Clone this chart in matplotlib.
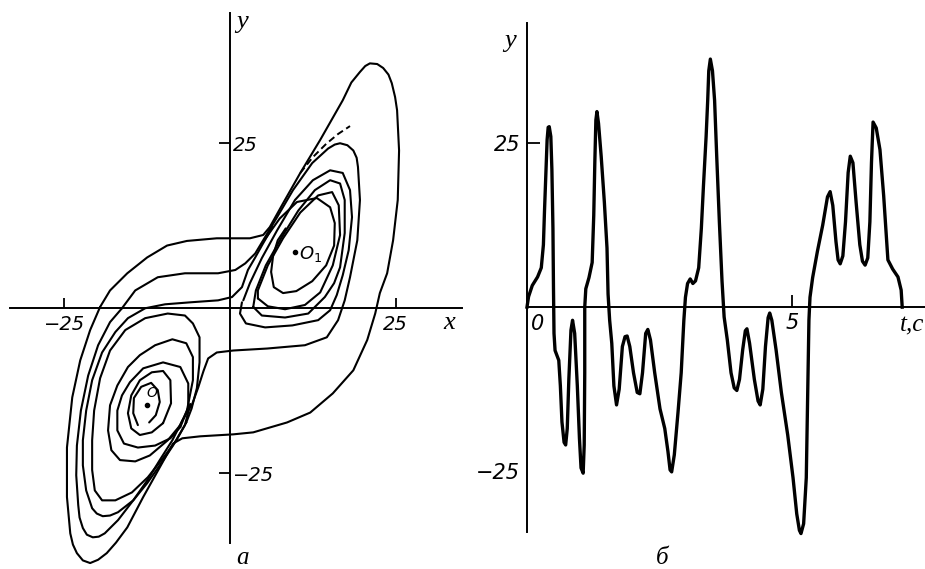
import numpy as np
import matplotlib
matplotlib.use('Agg')
import matplotlib.pyplot as plt

FIG_W, FIG_H = 925, 569

# ---- panel a: phase portrait (x, y) ----
outer_loop = [(-19.6, 0.2), (-18.1, 2.7), (-15.5, 5.3), (-12.5, 7.7), (-9.5, 9.5), (-6.5, 10.2),
              (-2.0, 10.6), (3.0, 10.6), (5.0, 11.1), (6.0, 12.3), (8.0, 15.9), (10.6, 20.5),
              (13.6, 25.5), (17.0, 31.5), (18.3, 34.2), (19.6, 35.8), (20.4, 36.7), (21.1, 37.1),
              (22.2, 37.0), (23.1, 36.4), (23.9, 35.4), (24.4, 34.1), (24.9, 32.0), (25.2, 30.0),
              (25.5, 23.9), (25.3, 16.4), (24.6, 10.3), (23.7, 5.3), (22.6, 2.3),
              (21.9, -0.8), (20.7, -4.8), (18.6, -9.4), (15.5, -12.9), (12.1, -15.8), (8.6, -17.3),
              (3.5, -18.8), (0.5, -19.1), (-4.5, -19.4), (-7.2, -19.7), (-8.6, -20.5), (-10.6, -24.1),
              (-13.1, -28.6), (-15.5, -33.2), (-17.2, -35.5), (-18.6, -37.1), (-19.9, -38.1),
              (-21.1, -38.6), (-22.2, -38.2), (-23.1, -37.1), (-23.7, -35.8), (-24.1, -34.1),
              (-24.6, -28.6), (-24.6, -21.1), (-23.8, -13.5), (-22.6, -7.9),
              (-21.1, -3.3), (-19.6, 0.2)]

second_loop = [(-16.3, 0.0), (-14.3, 2.7), (-10.9, 4.7), (-6.8, 5.3), (-1.8, 5.3), (0.8, 5.8),
               (2.3, 6.8), (3.8, 8.3), (5.0, 10.3), (7.1, 13.8), (9.5, 17.9), (12.4, 22.0),
               (14.8, 24.2), (15.8, 24.8), (16.6, 25.0), (17.7, 24.7), (18.6, 23.9), (19.1, 22.8),
               (19.3, 21.4), (19.6, 16.4), (19.2, 10.3),
               (18.1, 4.7), (17.3, 1.2), (16.3, -1.8), (14.6, -4.4), (11.3, -5.6), (5.6, -6.1),
               (0.5, -6.4), (-2.0, -6.7), (-3.3, -7.6), (-4.0, -9.5), (-4.8, -12.0), (-5.7, -14.5),
               (-7.2, -17.0), (-8.7, -20.0), (-10.6, -23.0), (-12.5, -26.1), (-14.6, -29.1),
               (-16.9, -32.1), (-18.9, -34.1), (-19.8, -34.6), (-20.7, -34.7), (-21.6, -34.3),
               (-22.2, -33.3), (-22.7, -31.7), (-22.9, -29.8),
               (-23.2, -25.3), (-23.1, -20.8), (-22.5, -15.5), (-21.4, -10.2), (-19.9, -5.6),
               (-18.1, -2.1), (-16.3, 0.0)]

crossing_path = [(-6.0, -14.5), (-6.8, -17.7), (-8.6, -20.8), (-10.6, -23.8), (-12.5, -26.5),
                 (-14.6, -29.1), (-16.9, -30.9), (-18.1, -31.4), (-19.2, -31.5), (-20.1, -31.1),
                 (-20.8, -30.3), (-21.7, -27.6),
                 (-22.2, -23.8), (-22.2, -20.0), (-21.7, -15.5), (-20.8, -10.9), (-19.3, -6.7),
                 (-17.3, -3.6), (-15.4, -1.5), (-12.8, 0.0), (-9.8, 0.6), (-6.0, 0.9), (-1.8, 1.2),
                 (0.3, 1.7), (1.8, 3.2), (2.7, 5.8), (3.8, 7.7), (4.8, 9.5), (6.4, 12.3)]

left_loop_1 = [(-6.6, -17.3), (-8.1, -20.0), (-10.1, -22.7), (-12.4, -25.6), (-14.8, -27.9),
               (-17.3, -29.1), (-19.3, -29.1), (-20.4, -27.6), (-20.8, -24.5), (-20.8, -20.0),
               (-20.5, -15.5), (-19.6, -10.6), (-18.1, -6.4), (-15.8, -3.3), (-12.8, -1.5),
               (-9.4, -0.8), (-6.8, -1.1), (-5.6, -2.3), (-4.6, -4.4), (-4.6, -8.2), (-5.0, -12.1),
               (-5.8, -15.2), (-6.6, -17.3)]

left_loop_2 = [(-6.5, -15.5), (-7.5, -17.7), (-9.4, -20.0), (-12.1, -22.3), (-14.3, -23.2),
               (-16.6, -23.0), (-17.9, -21.5), (-18.4, -18.5), (-18.1, -14.7), (-17.0, -11.7),
               (-15.4, -8.9), (-13.6, -7.1), (-11.3, -5.6), (-8.7, -4.7), (-6.6, -5.3), (-5.6, -7.4),
               (-5.6, -10.9), (-6.5, -15.5)]

left_loop_3 = [(-7.5, -18.0), (-9.0, -19.7), (-11.3, -20.8), (-13.9, -21.1), (-16.0, -20.5),
               (-17.0, -18.5), (-17.0, -15.5), (-16.3, -13.2), (-15.1, -11.2), (-13.1, -9.1),
               (-10.1, -8.2), (-7.5, -8.9), (-6.3, -11.4), (-6.3, -15.0), (-7.5, -18.0)]

left_loop_4 = [(-10.1, -17.4), (-11.8, -18.8), (-13.6, -19.2), (-14.9, -18.2), (-15.4, -15.9),
               (-14.9, -13.2), (-13.6, -10.9), (-11.8, -9.7), (-10.1, -9.5), (-9.0, -10.9),
               (-8.9, -14.4), (-10.1, -17.4)]

left_inner = [(-13.9, -17.7), (-14.6, -15.9), (-14.5, -13.6), (-13.4, -11.9), (-11.9, -11.3),
              (-10.9, -12.4), (-10.6, -14.2), (-11.2, -16.2), (-12.2, -17.3)]

right_loop_1 = [(2.0, 1.2), (3.0, 3.8), (4.8, 7.6), (7.1, 11.8), (9.8, 16.4), (12.5, 19.4),
                (15.1, 20.9), (17.0, 20.5), (18.1, 17.9), (18.4, 13.8), (17.9, 8.8), (17.0, 5.0),
                (16.1, 2.0), (15.1, -0.3), (13.3, -1.8), (9.4, -2.6), (5.3, -2.9), (2.4, -2.3),
                (1.5, -0.8), (1.8, 0.9)]

right_loop_2 = [(3.5, 0.2), (3.9, 2.7), (5.4, 6.5), (7.7, 10.6), (10.3, 14.8), (12.8, 17.9),
                (15.1, 19.4), (16.6, 18.9), (17.3, 16.4), (17.3, 11.4), (16.6, 6.2), (15.7, 3.8),
                (14.3, 1.7), (11.8, -0.8), (8.3, -1.4), (4.8, -1.1), (3.5, 0.2)]

right_loop_3 = [(4.2, 1.5), (4.2, 2.7), (5.7, 6.5), (8.0, 10.6), (10.6, 14.5), (13.3, 17.1),
                (15.4, 17.6), (16.4, 15.6), (16.6, 11.1), (15.5, 6.5), (13.6, 2.4), (11.3, 0.5),
                (8.3, -0.15), (5.7, 0.3), (4.2, 1.5)]

right_inner = [(4.8, 9.8), (7.5, 13.6), (10.1, 16.1), (13.1, 16.7), (15.1, 15.3), (15.8, 12.9),
               (15.7, 9.5), (14.5, 6.5), (12.4, 4.1), (10.0, 2.6), (8.0, 2.3), (6.6, 3.2),
               (6.2, 5.5), (6.5, 8.0), (7.2, 10.3), (8.4, 12.1)]

dashed_branch = [(10.6, 20.5), (12.5, 22.9), (14.5, 24.9), (16.3, 26.4), (18.1, 27.6)]

fixed_points = {'O': (-12.5, -14.7), 'O_1': (9.8, 8.5)}
phase_ticks = [-25, 25]
phase_tick_labels = ['\u221225', '25']

# ---- panel б: y(t) ----
t_values = [0.00, 0.03, 0.10, 0.20, 0.27, 0.31, 0.33, 0.36, 0.38, 0.40, 0.42, 0.45, 0.47, 0.49, 0.50,
            0.51, 0.53, 0.60, 0.63, 0.66, 0.70, 0.73, 0.76, 0.79, 0.83, 0.86, 0.90, 0.95, 0.99,
            1.02, 1.06, 1.08, 1.09, 1.09, 1.11, 1.17, 1.23, 1.26, 1.28, 1.30, 1.32, 1.35, 1.40,
            1.46, 1.51, 1.53, 1.56, 1.60, 1.64, 1.69, 1.74, 1.80, 1.85, 1.89, 1.94, 2.01, 2.08,
            2.13, 2.18, 2.24, 2.28, 2.33, 2.41, 2.51, 2.60, 2.66, 2.70, 2.73, 2.78, 2.85, 2.91,
            2.96, 2.99, 3.03, 3.08, 3.13, 3.18, 3.24, 3.29, 3.33, 3.38, 3.41, 3.43, 3.46, 3.50,
            3.54, 3.58, 3.63, 3.68, 3.72, 3.78, 3.85, 3.91, 3.96, 4.01, 4.07, 4.12, 4.15, 4.20,
            4.29, 4.36, 4.40, 4.45, 4.50, 4.55, 4.58, 4.62, 4.70, 4.80, 4.92, 5.02, 5.09, 5.14,
            5.17, 5.22, 5.27, 5.30, 5.32, 5.34, 5.39, 5.48, 5.58, 5.67, 5.72, 5.77, 5.83, 5.87,
            5.91, 5.96, 6.01, 6.06, 6.10, 6.15, 6.21, 6.28, 6.33, 6.38, 6.43, 6.47, 6.50, 6.53,
            6.59, 6.66, 6.73, 6.78, 6.81, 6.90, 7.00, 7.06, 7.08]
y_values = [0.0, 1.6, 3.3, 4.6, 6.0, 9.5, 14.5, 21.0, 25.5, 27.4, 27.5, 26.0, 21.0, 12.0, 3.0,
            -4.0, -6.6, -8.1, -12.0, -17.5, -20.6, -21.0, -18.5, -11.0, -3.5, -2.0, -4.0, -12.0, -20.0,
            -24.5, -25.3, -21.0, -10.0, 0.0, 2.8, 4.5, 6.8, 14.0, 22.0, 28.5, 29.8, 28.0, 23.0,
            16.0, 9.0, 2.0, -2.0, -5.5, -12.0, -14.9, -12.5, -6.0, -4.5, -4.4, -6.0, -10.0, -13.0,
            -13.2, -10.0, -4.0, -3.4, -5.0, -10.0, -15.5, -18.5, -22.0, -24.8, -25.1, -22.5, -16.0, -10.0,
            -2.0, 1.5, 3.6, 4.3, 3.6, 4.0, 6.0, 12.0, 18.5, 26.0, 31.5, 36.0, 37.8, 36.0,
            31.5, 23.0, 13.0, 4.0, -1.5, -5.0, -10.0, -12.3, -12.7, -11.0, -6.5, -3.6, -3.3, -5.5,
            -11.0, -14.3, -14.9, -12.5, -6.0, -1.6, -0.9, -2.0, -6.5, -13.0, -19.5, -26.0, -31.5, -34.0,
            -34.5, -33.0, -26.0, -12.0, -2.0, 1.5, 4.5, 8.5, 12.5, 16.8, 17.6, 15.5, 10.0, 7.2,
            6.6, 7.8, 13.0, 20.5, 23.0, 22.0, 16.0, 9.5, 7.0, 6.4, 7.5, 13.0, 22.0, 28.2,
            27.3, 24.0, 17.0, 11.0, 7.2, 5.8, 4.6, 2.6, 0.0]
time_ticks = [5]
time_y_ticks = [-25, 25]

ITALIC_SERIF = dict(family='Liberation Serif', style='italic')


def draw_curve(ax, pts, lw=1.5, **kw):
    pts = np.asarray(pts)
    ax.plot(pts[:, 0], pts[:, 1], color='black', lw=lw,
            solid_joinstyle='round', solid_capstyle='round', **kw)


def style_spines(ax, keep):
    for name, spine in ax.spines.items():
        if name in keep:
            spine.set_position(('data', 0))
            spine.set_linewidth(1.4)
        else:
            spine.set_visible(False)


def plot_phase(ax):
    ax.set_xlim(-34.7, 36.2)
    ax.set_ylim(-39.5, 46.7)
    style_spines(ax, ('bottom', 'right'))
    ax.spines['bottom'].set_bounds(-33.2, 35.0)
    ax.spines['right'].set_bounds(-35.6, 44.7)

    ax.set_xticks(phase_ticks, labels=phase_tick_labels)
    ax.tick_params(axis='x', direction='in', length=7, width=1.3, pad=5, labelsize=14)
    ax.yaxis.tick_right()
    ax.set_yticks(phase_ticks, labels=phase_tick_labels)
    ax.tick_params(axis='y', direction='in', length=8, width=1.3, pad=2, labelsize=14)
    for lab in ax.get_xticklabels() + ax.get_yticklabels():
        lab.set_fontstyle('italic')

    for curve in (outer_loop, second_loop, crossing_path, left_loop_1, left_loop_2,
                  left_loop_3, left_loop_4, left_inner, right_loop_1, right_loop_2,
                  right_loop_3, right_inner):
        draw_curve(ax, curve)
    draw_curve(ax, dashed_branch, lw=1.4, linestyle=(0, (3.5, 2)))

    for name, (px, py) in fixed_points.items():
        ax.plot(px, py, 'o', color='black', ms=3)
    ox, oy = fixed_points['O_1']
    ax.text(ox + 0.6, oy - 0.3, '$O_1$', fontsize=13, ha='left', va='center')
    ox, oy = fixed_points['O']
    ax.text(ox + 0.8, oy + 1.8, '$O$', fontsize=10, ha='center', va='center')

    ax.text(33.0, -2.2, 'x', fontsize=19, ha='center', va='center', **ITALIC_SERIF)
    ax.text(1.8, 43.4, 'y', fontsize=19, ha='center', va='center', **ITALIC_SERIF)
    ax.text(1.9, -37.8, 'a', fontsize=18, ha='center', va='center', **ITALIC_SERIF)


def plot_series(ax):
    ax.set_xlim(-1.075, 7.51)
    ax.set_ylim(-39.9, 46.8)
    style_spines(ax, ('bottom', 'left'))
    ax.spines['left'].set_bounds(-34.3, 43.3)
    ax.spines['bottom'].set_bounds(0, 7.51)

    ax.set_xticks(time_ticks, labels=[str(v) for v in time_ticks])
    ax.tick_params(axis='x', direction='in', length=9, width=1.3, pad=4, labelsize=15)
    ax.set_yticks(time_y_ticks, labels=phase_tick_labels)
    ax.tick_params(axis='y', direction='in', length=9, width=1.3, pad=5, labelsize=15)
    ax.yaxis.get_major_ticks()[0].tick1line.set_visible(False)
    for lab in ax.get_xticklabels() + ax.get_yticklabels():
        lab.set_fontstyle('italic')

    ax.plot(t_values, y_values, color='black', lw=2.4, solid_joinstyle='round')

    ax.text(0.2, -2.6, '0', fontsize=15, style='italic', ha='center', va='center')
    ax.text(-0.32, 40.6, 'y', fontsize=19, ha='center', va='center', **ITALIC_SERIF)
    ax.text(7.27, -2.8, 't,c', fontsize=18, ha='center', va='center', **ITALIC_SERIF)
    ax.text(2.55, -38.2, '\u0431', fontsize=18, ha='center', va='center', **ITALIC_SERIF)


if __name__ == '__main__':
    fig = plt.figure(figsize=(FIG_W / 100, FIG_H / 100), dpi=100)
    ax_phase = fig.add_axes([0, 0, 470 / FIG_W, 1])
    ax_series = fig.add_axes([470 / FIG_W, 0, 455 / FIG_W, 1])
    for ax in (ax_phase, ax_series):
        ax.patch.set_alpha(0)
    plot_phase(ax_phase)
    plot_series(ax_series)
    fig.savefig('out.png', dpi=100)
